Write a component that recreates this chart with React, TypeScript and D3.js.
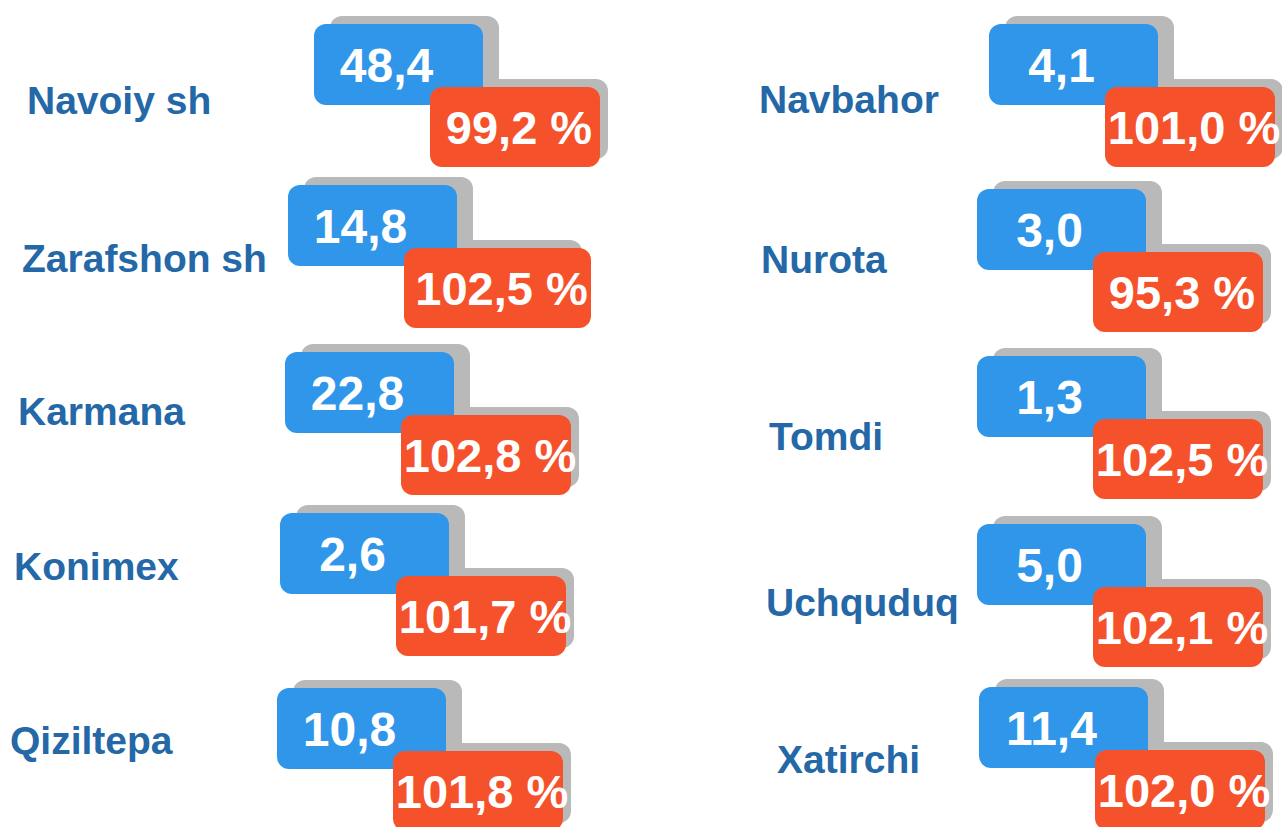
import React from "react";
import * as d3 from "d3";

// ---- data ----
const regions = [
  "Navoiy sh", "Zarafshon sh", "Karmana", "Konimex", "Qiziltepa",
  "Navbahor", "Nurota", "Tomdi", "Uchquduq", "Xatirchi",
];
const volumes = [48.4, 14.8, 22.8, 2.6, 10.8, 4.1, 3.0, 1.3, 5.0, 11.4];
const growth = [99.2, 102.5, 102.8, 101.7, 101.8, 101.0, 95.3, 102.5, 102.1, 102.0];
const columnOf = [0, 0, 0, 0, 0, 1, 1, 1, 1, 1];
const rowOf = [0, 1, 2, 3, 4, 0, 1, 2, 3, 4];

// ---- layout (hand-placed infographic nudges) ----
const W = 1282;
const H = 827;
const boxNudgeX = [26, 0, -3, -8, -11, 12, 0, 0, 0, 2];
const boxNudgeY = [0, -5, -4, -9, 0, 0, -1, 0, 2, -1];
const labelX = [27, 22, 18, 14, 10, 759, 761, 769, 766, 777];
const labelDy = [90, 87, 73, 67, 66, 89, 84, 94, 92, 86];
const redExtraW = [0, 17, 0, 0, 0, 0, 0, 0, 0, 0];

const BLUE = "#3096EA";
const RED = "#F5512B";
const SHADOW = "#B9B9B9";
const LABEL = "#2468A8";
const FONT = "'Liberation Sans', Arial, sans-serif";

const fmt = d3.format(".1f");
const comma = (v: number) => fmt(v).replace(".", ",");

export default function App() {
  const rowY = d3.scaleLinear().domain([0, 4]).range([24, 688]);
  const colX = d3.scaleOrdinal<number, number>().domain([0, 1]).range([288, 977]);

  const bw = 169, bh = 81;
  const rw = 170, rh = 80;
  const rdx = 116, rdy = 63;
  const r = 12;

  const items = regions.map((name, i) => {
    const bx = colX(columnOf[i]) + boxNudgeX[i];
    const by = rowY(rowOf[i]) + boxNudgeY[i];
    return {
      name,
      vol: volumes[i],
      gr: growth[i],
      bx,
      by,
      rx: bx + rdx,
      ry: by + rdy,
      rwi: rw + redExtraW[i],
      lx: labelX[i],
      ly: by + labelDy[i],
    };
  });

  return (
    <svg
      width={W}
      height={H}
      style={{ position: "absolute", left: 0, top: 0, background: "#fff" }}
    >
      {items.map((d, i) => (
        <g key={i}>
          <text
            x={d.lx}
            y={d.ly}
            fill={LABEL}
            fontFamily={FONT}
            fontWeight="bold"
            fontSize={39}
          >
            {d.name}
          </text>
          {/* shadows */}
          <rect x={d.bx + 16} y={d.by - 8} width={bw} height={bh} rx={r} fill={SHADOW} />
          <rect x={d.rx + 8} y={d.ry - 8} width={rw} height={rh} rx={r} fill={SHADOW} />
          {/* blue value box */}
          <rect x={d.bx} y={d.by} width={bw} height={bh} rx={r} fill={BLUE} />
          <text
            x={d.bx + bw / 2 - 12}
            y={d.by + bh / 2 + 17}
            textAnchor="middle"
            fill="#fff"
            fontFamily={FONT}
            fontWeight="bold"
            fontSize={48}
          >
            {comma(d.vol)}
          </text>
          {/* red growth box */}
          <rect x={d.rx} y={d.ry} width={d.rwi} height={rh} rx={r} fill={RED} />
          <text
            x={d.rx + d.rwi / 2 + 4}
            y={d.ry + rh / 2 + 17}
            textAnchor="middle"
            fill="#fff"
            fontFamily={FONT}
            fontWeight="bold"
            fontSize={47}
          >
            {comma(d.gr) + " %"}
          </text>
        </g>
      ))}
    </svg>
  );
}
